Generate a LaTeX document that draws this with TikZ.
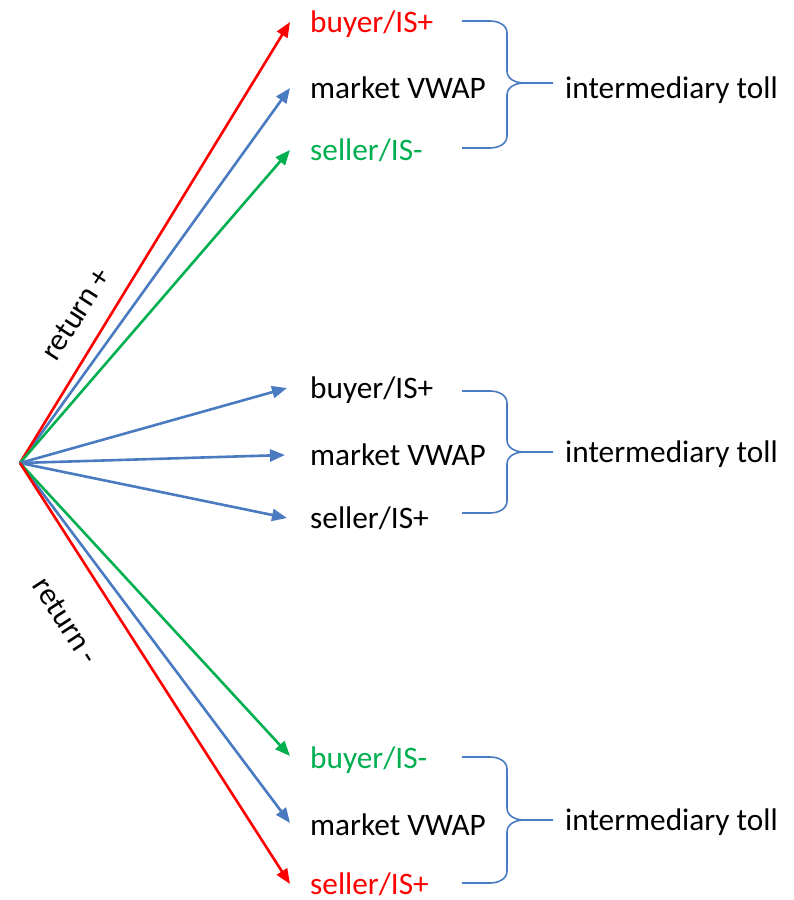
\documentclass[tikz,border=0pt]{standalone}
\usepackage{fontspec}
\setmainfont{Carlito}
\usetikzlibrary{arrows.meta}
\definecolor{offred}{RGB}{255,0,0}
\definecolor{offblue}{RGB}{74,123,192}
\definecolor{offgreen}{RGB}{0,176,80}
\begin{document}
\begin{tikzpicture}[x=1pt,y=-1pt,
  lbl/.style={anchor=base west,inner sep=0pt,font=\fontsize{31.3}{36}\selectfont},
  rlbl/.style={inner sep=0pt,font=\fontsize{31.3}{36}\selectfont},
  arr/.style={line width=2.6pt,-{Triangle[length=15pt,width=12pt]}},
  brace/.style={offblue,line width=1.6pt}]
\useasboundingbox (0,0) rectangle (794,900);
\coordinate (o) at (20,463);
% tips
\coordinate (t1) at (290,22);
\coordinate (t2) at (290,88);
\coordinate (t3) at (290,150);
\coordinate (m1) at (287,388);
\coordinate (m2) at (285,455);
\coordinate (m3) at (287,518);
\coordinate (b1) at (290,756);
\coordinate (b2) at (290,823);
\coordinate (b3) at (290,884);
% labels
\node[lbl,text=offred] (lt1) at (310,32) {buyer/IS+};
\node[lbl] (lt2) at (310,98) {market VWAP};
\node[lbl,text=offgreen] (lt3) at (310,160) {seller/IS-};
\node[lbl] (lm1) at (310,398) {buyer/IS+};
\node[lbl] (lm2) at (310,465) {market VWAP};
\node[lbl] (lm3) at (310,528) {seller/IS+};
\node[lbl,text=offgreen] (lb1) at (310,768) {buyer/IS-};
\node[lbl] (lb2) at (310,835) {market VWAP};
\node[lbl,text=offred] (lb3) at (310,894) {seller/IS+};
\node[lbl] (it1) at (565,98) {intermediary toll};
\node[lbl] (it2) at (565,462) {intermediary toll};
\node[lbl] (it3) at (565,830) {intermediary toll};
\node[rlbl,rotate=57] (rp) at (76,314) {return +};
\node[rlbl,rotate=-57] (rm) at (66,621) {return -};
% arrows
\draw[arr,offblue] (o) -- (t2);
\draw[arr,offred] (o) -- (t1);
\draw[arr,offgreen] (o) -- (t3);
\draw[arr,offblue] (o) -- (m1);
\draw[arr,offblue] (o) -- (m2);
\draw[arr,offblue] (o) -- (m3);
\draw[arr,offblue] (o) -- (b2);
\draw[arr,offgreen] (o) -- (b1);
\draw[arr,offred] (o) -- (b3);
% braces
\foreach \a/\c/\b in {21/83/148, 391/452/513, 757/820/883}{
  \draw[brace] (462,\a) -- (490,\a) to[out=0,in=90] (507,\a+12) -- (507,\c-12)
    to[out=-90,in=180] (524,\c) -- (553,\c);
  \draw[brace] (462,\b) -- (490,\b) to[out=0,in=-90] (507,\b-12) -- (507,\c+12)
    to[out=90,in=180] (524,\c);
}
\end{tikzpicture}
\end{document}
